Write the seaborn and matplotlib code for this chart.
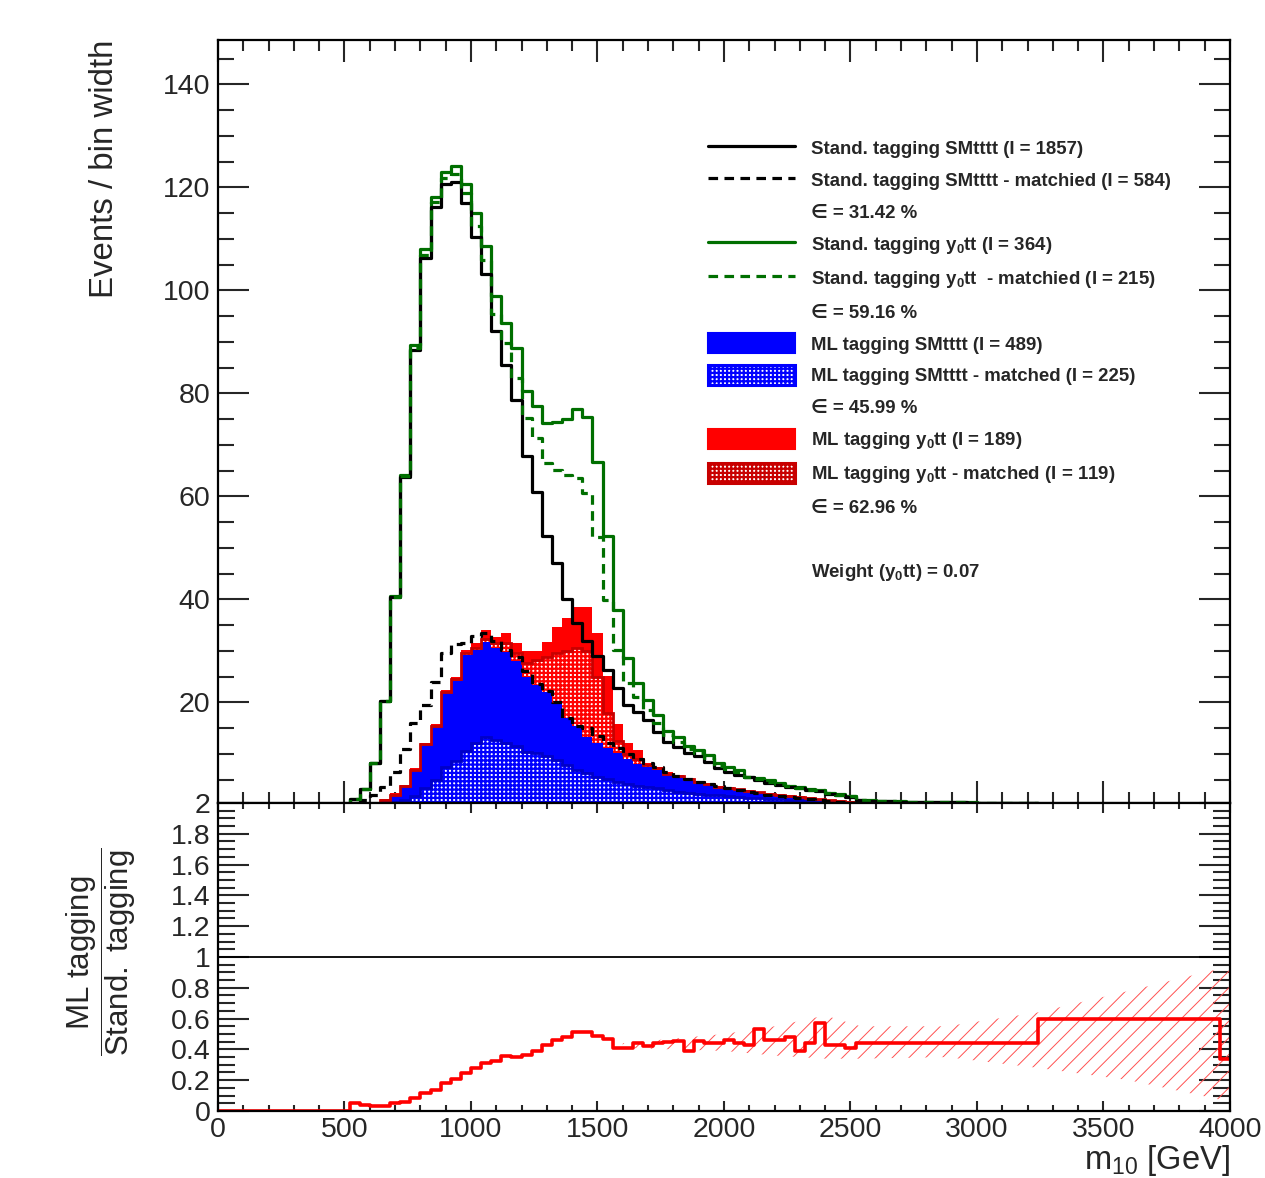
import numpy as np
import matplotlib
matplotlib.use("Agg")
import matplotlib.pyplot as plt
import seaborn as sns
from matplotlib.lines import Line2D
from matplotlib.patches import Patch
from matplotlib.ticker import MultipleLocator, FuncFormatter
from matplotlib.font_manager import FontProperties

# ------------------------------------------------------------------ data
# 100 bins of 40 GeV between 0 and 4000 GeV; values listed from bin 13 (520 GeV) on,
# all earlier / later bins are empty.
bin_edges = list(range(0, 4001, 40))
first_bin = 13

stand_smtttt = [1.2, 3.2, 8.2, 20.2, 40.5, 63.8, 88.5, 106.3, 116.1, 120.6,
                121.1, 117.0, 110.3, 103.2, 92.1, 85.5, 78.7, 67.8, 60.9, 52.3,
                47.1, 40.1, 35.5, 32.0, 29.0, 26.3, 22.7, 19.5, 18.2, 16.6,
                14.3, 12.4, 11.4, 10.1, 9.5, 8.5, 7.2, 6.5, 5.9, 5.5,
                4.9, 4.4, 4.0, 3.6, 3.4, 3.0, 2.8, 2.3, 2.1, 1.7,
                1.0, 0.9, 0.8, 0.8, 0.7, 0.7, 0.7, 0.6, 0.6, 0.6,
                0.6, 0.5, 0.5, 0.5, 0.5, 0.5, 0.5, 0.5]

stand_smtttt_matched = [0.3, 1.0, 2.0, 3.6, 6.5, 11.0, 16.0, 19.5, 24.0, 29.5,
                        31.3, 31.6, 32.8, 33.4, 32.0, 30.2, 28.8, 26.0, 23.5, 22.2,
                        20.0, 17.0, 15.5, 15.0, 13.5, 12.1, 11.1, 10.0, 9.0, 8.3,
                        7.4, 6.5, 5.7, 5.1, 4.6, 4.2, 3.8, 3.4, 3.0, 2.7,
                        2.4, 2.1, 1.9, 1.6, 1.4, 1.2, 1.0, 0.8, 0.6, 0.5,
                        0.4, 0.4, 0.3, 0.3, 0.3, 0.3, 0.2, 0.2, 0.2, 0.2,
                        0.2, 0.2, 0.1, 0.1, 0.1, 0.1, 0.1, 0.1]

stand_y0tt = [1.2, 3.2, 8.3, 20.3, 40.7, 64.2, 89.4, 108.0, 118.2, 122.9,
              124.2, 120.6, 115.0, 108.6, 98.9, 93.6, 88.9, 80.5, 77.6, 74.3,
              74.4, 75.0, 76.9, 75.4, 66.6, 52.4, 37.9, 28.6, 23.7, 20.5,
              17.5, 14.5, 13.2, 11.5, 10.8, 9.8, 8.2, 7.4, 6.9, 5.6,
              5.4, 4.9, 4.4, 3.7, 3.5, 3.1, 3.0, 2.5, 2.2, 1.8,
              1.1, 1.0, 0.9, 0.85, 0.8, 0.75, 0.75, 0.7, 0.65, 0.65,
              0.6, 0.6, 0.55, 0.55, 0.55, 0.5, 0.5, 0.5]

stand_y0tt_matched = [1.2, 3.2, 8.2, 20.2, 40.5, 63.9, 88.8, 106.8, 117.1, 121.8,
                      122.6, 118.9, 112.4, 105.9, 95.5, 89.7, 83.0, 75.2, 71.3, 66.5,
                      65.1, 64.2, 63.5, 60.7, 52.2, 39.9, 30.2, 23.7, 21.1, 18.5,
                      16.0, 13.6, 12.4, 10.9, 10.2, 9.2, 7.7, 7.0, 6.4, 5.6,
                      5.2, 4.6, 4.2, 3.7, 3.4, 3.0, 2.9, 2.4, 2.1, 1.75,
                      1.0, 0.9, 0.85, 0.8, 0.75, 0.7, 0.7, 0.65, 0.6, 0.6,
                      0.6, 0.55, 0.55, 0.5, 0.5, 0.5, 0.5, 0.5]

ml_smtttt = [0.0, 0.0, 0.3, 1.05, 2.0, 3.6, 6.8, 11.7, 15.3, 21.9,
             24.2, 29.2, 30.1, 31.8, 30.5, 29.8, 28.0, 25.0, 23.3, 22.0,
             19.8, 17.0, 15.5, 13.3, 12.2, 11.2, 10.2, 9.0, 8.0, 7.4,
             6.9, 5.9, 5.6, 4.9, 4.3, 4.0, 3.5, 3.2, 3.0, 2.7,
             2.5, 2.2, 2.0, 1.8, 1.6, 1.4, 1.2, 1.0, 0.9, 0.7,
             0.4, 0.3, 0.3, 0.2, 0.2, 0.2, 0.1, 0.1, 0.1, 0.1,
             0.1, 0.1, 0.0, 0.0, 0.0, 0.0, 0.0, 0.0]

ml_smtttt_matched = [0.0, 0.0, 0.0, 0.2, 0.6, 1.0, 1.9, 3.3, 5.0, 7.4,
                     8.7, 10.6, 12.1, 13.2, 12.7, 12.2, 11.5, 10.4, 10.1, 9.5,
                     8.8, 7.8, 6.9, 6.2, 5.6, 5.2, 4.6, 4.2, 3.8, 3.6,
                     3.3, 3.0, 2.6, 2.4, 2.3, 2.1, 2.0, 1.8, 1.7, 1.5,
                     1.4, 1.3, 1.2, 1.1, 1.0, 0.9, 0.8, 0.6, 0.5, 0.4,
                     0.2, 0.15, 0.1, 0.1, 0.1, 0.05, 0.05, 0.0, 0.0, 0.0,
                     0.0, 0.0, 0.0, 0.0, 0.0, 0.0, 0.0, 0.0]

# weighted y0tt ML contributions (stacked on top of ML SMtttt)
ml_y0tt = [0.0, 0.0, 0.1, 0.25, 0.4, 0.4, 0.4, 0.5, 0.5, 0.5,
           0.8, 1.0, 1.5, 2.2, 2.1, 3.6, 3.6, 5.0, 6.7, 9.8,
           14.9, 19.3, 23.1, 25.3, 21.2, 14.0, 5.7, 3.1, 2.8, 0.9,
           0.6, 0.5, 0.4, 0.4, 0.4, 0.3, 0.3, 0.3, 0.2, 0.2,
           0.2, 0.2, 0.2, 0.2, 0.2, 0.2, 0.1, 0.1, 0.1, 0.1,
           0.1, 0.1, 0.05, 0.05, 0.0, 0.0, 0.0, 0.0, 0.0, 0.0,
           0.0, 0.0, 0.0, 0.0, 0.0, 0.0, 0.0, 0.0]

ml_y0tt_matched = [0.0, 0.0, 0.05, 0.05, 0.1, 0.1, 0.1, 0.2, 0.2, 0.2,
                   0.3, 0.3, 0.4, 0.6, 1.0, 1.7, 1.5, 2.6, 4.9, 6.9,
                   9.7, 13.0, 15.0, 16.7, 12.8, 6.7, 2.4, 1.0, 1.0, 0.5,
                   0.3, 0.25, 0.2, 0.2, 0.2, 0.15, 0.15, 0.15, 0.1, 0.1,
                   0.1, 0.1, 0.1, 0.1, 0.1, 0.1, 0.05, 0.05, 0.05, 0.05,
                   0.05, 0.05, 0.0, 0.0, 0.0, 0.0, 0.0, 0.0, 0.0, 0.0,
                   0.0, 0.0, 0.0, 0.0, 0.0, 0.0, 0.0, 0.0]

# ratio ML tagging / Stand. tagging (40 GeV bins up to 2520 GeV, then wide bins)
ratio_edges = list(range(0, 2521, 40)) + [3240, 3960, 4000]
ratio_values = [0, 0, 0, 0, 0, 0, 0, 0, 0, 0, 0, 0, 0,
                0.054, 0.039, 0.035, 0.035, 0.05, 0.06, 0.082, 0.115, 0.136, 0.184,
                0.206, 0.249, 0.277, 0.314, 0.327, 0.359, 0.353, 0.364, 0.39, 0.43,
                0.46, 0.48, 0.51, 0.513, 0.49, 0.47, 0.41, 0.41, 0.44, 0.42,
                0.44, 0.45, 0.453, 0.39, 0.457, 0.44, 0.44, 0.46, 0.44, 0.43,
                0.53, 0.46, 0.46, 0.48, 0.39, 0.44, 0.57, 0.43, 0.43, 0.41,
                0.44, 0.595, 0.34]

# uncertainty band of the ratio
band_x = [1600, 1800, 2000, 2200, 2400, 2540, 2880, 3240, 3600, 4000]
band_lo = [0.41, 0.40, 0.39, 0.36, 0.34, 0.34, 0.35, 0.28, 0.20, 0.06]
band_hi = [0.44, 0.47, 0.50, 0.55, 0.62, 0.55, 0.55, 0.64, 0.78, 0.94]

legend_labels = [
    "Stand. tagging SMtttt (I = 1857)",
    "Stand. tagging SMtttt - matchied (I = 584)",
    "\u2208 = 31.42 %",
    r"Stand. tagging y$_\mathbf{0}$tt (I = 364)",
    r"Stand. tagging y$_\mathbf{0}$tt  - matchied (I = 215)",
    "\u2208 = 59.16 %",
    "ML tagging SMtttt (I = 489)",
    "ML tagging SMtttt - matched (I = 225)",
    "\u2208 = 45.99 %",
    r"ML tagging y$_\mathbf{0}$tt (I = 189)",
    r"ML tagging y$_\mathbf{0}$tt - matched (I = 119)",
    "\u2208 = 62.96 %",
    " ",
    r"Weight (y$_\mathbf{0}$tt) = 0.07",
]

# ------------------------------------------------------------------ style
sns.set_theme(style="ticks")
plt.rcParams["font.family"] = ["Liberation Sans", "DejaVu Sans"]
plt.rcParams["mathtext.fontset"] = "custom"
plt.rcParams["mathtext.rm"] = "Liberation Sans"
plt.rcParams["mathtext.sf"] = "Liberation Sans"
plt.rcParams["mathtext.it"] = "Liberation Sans:italic"
plt.rcParams["mathtext.bf"] = "Liberation Sans:bold"

GREEN = "#006f00"
BLUE = "#0000ff"
DARKBLUE = "#0000c8"
RED = "#ff0000"
DARKRED = "#c80000"
LW = 2.3
DASH = (3, 2)
HATCH_LW = 1.6


def full(values):
    out = np.zeros(len(bin_edges) - 1)
    out[first_bin:first_bin + len(values)] = values
    return out


edges_arr = np.array(bin_edges, dtype=float)
S = full(stand_smtttt)
Sm = full(stand_smtttt_matched)
G = full(stand_y0tt)
Gm = full(stand_y0tt_matched)
B = full(ml_smtttt)
Bm = full(ml_smtttt_matched)
R = full(ml_y0tt)
Rm = full(ml_y0tt_matched)
centers = 0.5 * (edges_arr[:-1] + edges_arr[1:])
r_edges = np.array(ratio_edges, dtype=float)
r_centers = 0.5 * (r_edges[:-1] + r_edges[1:])

fig = plt.figure(figsize=(12.65, 11.78), dpi=100)
ax = fig.add_axes([0.17233, 0.31834, 0.8, 0.6477])
axr = fig.add_axes([0.17233, 0.05688, 0.8, 0.26146])

# ---------------- main panel: ML stack
ax.stairs(B, edges_arr, baseline=0, fill=True, color=BLUE, lw=0, zorder=1.0)
ax.stairs(B + R, edges_arr, baseline=B, fill=True, color=RED, lw=0, zorder=1.1)
with plt.rc_context({"hatch.linewidth": HATCH_LW}):
    ax.stairs(Bm, edges_arr, baseline=0, fill=True, facecolor="white",
              edgecolor="none", lw=0, zorder=1.2)
    ax.stairs(Bm, edges_arr, baseline=0, fill=True, facecolor="none",
              edgecolor=BLUE, hatch="++++", lw=0, zorder=1.25)
    ax.stairs(B + Rm, edges_arr, baseline=B, fill=True, facecolor="white",
              edgecolor="none", lw=0, zorder=1.3)
    ax.stairs(B + Rm, edges_arr, baseline=B, fill=True, facecolor="none",
              edgecolor=RED, hatch="++++", lw=0, zorder=1.35)
ax.stairs(Bm, edges_arr, baseline=None, color=DARKBLUE, lw=2.0, zorder=1.4)
ax.stairs(B + Rm, edges_arr, baseline=None, color=DARKRED, lw=2.0, zorder=1.4)

# ---------------- main panel: standard tagging lines (seaborn)
common = dict(bins=bin_edges, element="step", fill=False, ax=ax, linewidth=LW)
sns.histplot(x=centers, weights=G, color=GREEN, zorder=2.0, **common)
sns.histplot(x=centers, weights=S, color="black", zorder=2.1, **common)
sns.histplot(x=centers, weights=Sm, color="black", dashes=DASH, zorder=2.2, **common)
sns.histplot(x=centers, weights=Gm, color=GREEN, dashes=DASH, zorder=2.3, **common)

# ---------------- ratio panel
with plt.rc_context({"hatch.linewidth": 0.7}):
    axr.fill_between(band_x, band_lo, band_hi, facecolor="none", edgecolor="#ff5050",
                     hatch="//", linewidth=0, zorder=1)
axr.axhline(1.0, color="black", lw=1.3, zorder=1.5)
sns.histplot(x=r_centers, weights=ratio_values, bins=ratio_edges, element="step",
             fill=False, color=RED, linewidth=2.6, ax=axr, zorder=2)

# ---------------- axes, ticks
ax.set_xlim(0, 4000)
ax.set_ylim(0.47, 148.6)
axr.set_xlim(0, 4000)
axr.set_ylim(0, 2)

for a in (ax, axr):
    for s in a.spines.values():
        s.set_linewidth(1.6)
        s.set_color("black")
    a.xaxis.set_major_locator(MultipleLocator(500))
    a.xaxis.set_minor_locator(MultipleLocator(100))

ax.yaxis.set_major_locator(MultipleLocator(20))
ax.yaxis.set_minor_locator(MultipleLocator(5))
axr.yaxis.set_major_locator(MultipleLocator(0.2))
axr.yaxis.set_minor_locator(MultipleLocator(0.05))
axr.yaxis.set_major_formatter(FuncFormatter(lambda v, p: f"{round(v, 2):g}"))
axr.xaxis.set_major_formatter(FuncFormatter(lambda v, p: f"{v:.0f}"))

tick_font = 20.5
ax.xaxis.set_tick_params(which="major", length=16, width=1.5, direction="in",
                         top=True, bottom=True, labelbottom=False)
ax.xaxis.set_tick_params(which="minor", length=8, width=1.5, direction="in",
                         top=True, bottom=True)
ax.yaxis.set_tick_params(which="major", length=22, width=1.5, direction="in",
                         left=True, right=True, labelsize=tick_font, pad=5.5)
ax.yaxis.set_tick_params(which="minor", length=11.5, width=1.5, direction="in",
                         left=True, right=True)
axr.xaxis.set_tick_params(which="major", length=7.5, width=1.5, direction="in",
                          top=True, bottom=True, labelsize=tick_font, pad=4)
axr.xaxis.set_tick_params(which="minor", length=4.5, width=1.5, direction="in",
                          top=True, bottom=True)
axr.yaxis.set_tick_params(which="major", length=22.5, width=1.5, direction="in",
                          left=True, right=True, labelsize=tick_font, pad=5.5)
axr.yaxis.set_tick_params(which="minor", length=12, width=1.5, direction="in",
                          left=True, right=True)

ax.set_xlabel("")
ax.set_ylabel("Events / bin width", fontsize=23.8, loc="top")
ax.yaxis.set_label_coords(-0.0968, 1.0)

axr.set_ylabel(r"$\dfrac{\mathrm{ML\ tagging}}{\mathrm{Stand.\ tagging}}$", fontsize=22.5)
axr.yaxis.set_label_coords(-0.079, 0.519)
axr.set_xlabel(r"m$_{10}$ [GeV]", fontsize=23.5, loc="right")
axr.xaxis.set_label_coords(1.0, -0.104)

# ---------------- legend
handles = [
    Line2D([], [], color="black", lw=LW),
    Line2D([], [], color="black", lw=LW, dashes=DASH),
    Line2D([], [], linestyle="none"),
    Line2D([], [], color=GREEN, lw=LW),
    Line2D([], [], color=GREEN, lw=LW, dashes=DASH),
    Line2D([], [], linestyle="none"),
    Patch(facecolor=BLUE, edgecolor=BLUE, lw=1.5),
    Patch(facecolor="white", edgecolor=BLUE, hatch="++++", lw=2.2),
    Line2D([], [], linestyle="none"),
    Patch(facecolor=RED, edgecolor=RED, lw=1.5),
    Patch(facecolor="white", edgecolor=DARKRED, hatch="++++", lw=2.2),
    Line2D([], [], linestyle="none"),
    Line2D([], [], linestyle="none"),
    Line2D([], [], linestyle="none"),
]
leg_font = FontProperties(family=["Liberation Sans", "DejaVu Sans"], weight="bold", size=13.4)
with plt.rc_context({"hatch.linewidth": HATCH_LW}):
    ax.legend(handles, legend_labels, loc="upper left", bbox_to_anchor=(0.4842, 0.872),
              borderaxespad=0, borderpad=0, frameon=False, prop=leg_font,
              handlelength=4.66, handleheight=1.3, handletextpad=0.86,
              labelspacing=0.62)

fig.savefig("out.png", dpi=100, facecolor="white")
